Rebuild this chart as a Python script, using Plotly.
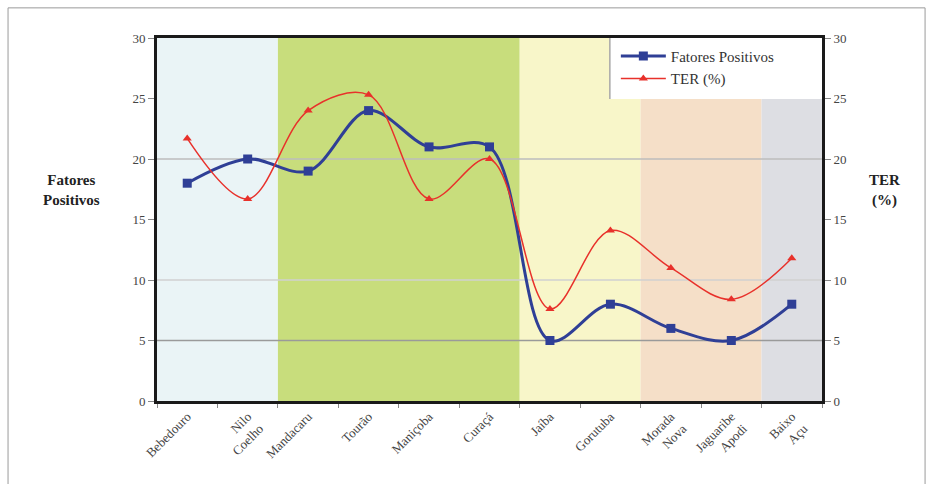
import plotly.graph_objects as go

# Irrigation districts (x categories)
categories = ["Bebedouro", "Nilo<br>Coelho", "Mandacaru", "Tourão", "Maniçoba", "Curaçá",
              "Jaíba", "Gorutuba", "Morada<br>Nova", "Jaguaribe<br>Apodi", "Baixo<br>Açu"]
fatores_positivos = [18, 20, 19, 24, 21, 21, 5, 8, 6, 5, 8]
ter_pct = [21.7, 16.7, 24.0, 25.3, 16.7, 20.0, 7.6, 14.1, 11.0, 8.4, 11.8]

# Background regions: (first category index, last category index, fill colour)
regions = [(0, 1, "#eaf4f6"), (2, 5, "#c8dd7c"), (6, 7, "#f8f6c9"), (8, 9, "#f5dfc8"), (10, 10, "#dddee3")]
gridlines = [(5, "#9a9a9a"), (10, "#d0d0d0"), (20, "#bdbdbd")]
y_ticks = [0, 5, 10, 15, 20, 25, 30]

serif = "Liberation Serif, Times New Roman, serif"

fig = go.Figure()

fig.add_trace(go.Scatter(
    x=categories, y=fatores_positivos, name="Fatores Positivos",
    mode="lines+markers", line=dict(color="#2f3f96", width=3, shape="spline", smoothing=1),
    marker=dict(symbol="square", size=9, color="#2f3f96"),
))
fig.add_trace(go.Scatter(
    x=categories, y=ter_pct, name="TER (%)", yaxis="y2",
    mode="lines+markers", line=dict(color="#e8312b", width=1.5, shape="spline", smoothing=1),
    marker=dict(symbol="triangle-up", size=8, color="#e8312b"),
))

shapes = []
for a, b, col in regions:
    shapes.append(dict(type="rect", xref="x", yref="paper", x0=a - 0.5, x1=b + 0.5, y0=0, y1=1,
                       fillcolor=col, line=dict(width=0), layer="below"))
for val, col in gridlines:
    shapes.append(dict(type="line", xref="paper", yref="y", x0=0, x1=1, y0=val, y1=val,
                       line=dict(color=col, width=1.5), layer="below"))
# legend panel (white box with a grey left edge, touching the top and right axes)
shapes.append(dict(type="rect", xref="paper", yref="paper", x0=0.681, x1=1.0, y0=0.832, y1=1.0,
                   fillcolor="white", line=dict(width=0), layer="below"))
shapes.append(dict(type="line", xref="paper", yref="paper", x0=0.681, x1=0.681, y0=0.832, y1=1.0,
                   line=dict(color="#a8a8a8", width=1.5)))
# outer frame around the whole figure
shapes.append(dict(type="rect", xref="paper", yref="paper", x0=-0.224, x1=1.155, y0=-0.25, y1=1.083,
                   line=dict(color="#9a9a9a", width=1)))

fig.update_layout(
    width=934, height=484,
    margin=dict(l=157, r=112, t=38, b=83),
    paper_bgcolor="white", plot_bgcolor="white",
    shapes=shapes,
    showlegend=True,
    legend=dict(x=0.69, y=0.995, xanchor="left", yanchor="top", bgcolor="rgba(0,0,0,0)",
                borderwidth=0, itemwidth=45,
                font=dict(family=serif, size=15, color="#333")),
    xaxis=dict(type="category", range=[-0.5, 10.5], showline=True, linecolor="#1a1a1a", linewidth=3,
               mirror=True, ticks="outside", tickson="boundaries", ticklen=4, tickcolor="#888",
               tickangle=-45, tickfont=dict(family=serif, size=13, color="#444"), showgrid=False),
    yaxis=dict(range=[0, 30], tickvals=y_ticks, showline=True, linecolor="#1a1a1a", linewidth=3,
               ticks="outside", ticklen=6, tickcolor="#888", showgrid=False, zeroline=False,
               tickfont=dict(family=serif, size=13, color="#444")),
    yaxis2=dict(range=[0, 30], tickvals=y_ticks, overlaying="y", side="right", showline=True,
                linecolor="#1a1a1a", linewidth=3, ticks="outside", ticklen=6, tickcolor="#888",
                showgrid=False, zeroline=False, tickfont=dict(family=serif, size=13, color="#444")),
    annotations=[
        dict(text="<b>Fatores<br>Positivos</b>", xref="paper", yref="paper", x=-0.175, y=0.58,
             showarrow=False, font=dict(family=serif, size=15, color="#222"), align="center"),
        dict(text="<b>TER<br>(%)</b>", xref="paper", yref="paper", x=1.12, y=0.58,
             showarrow=False, font=dict(family=serif, size=15, color="#222"), align="center"),
    ],
)

fig.write_html("out.html")
